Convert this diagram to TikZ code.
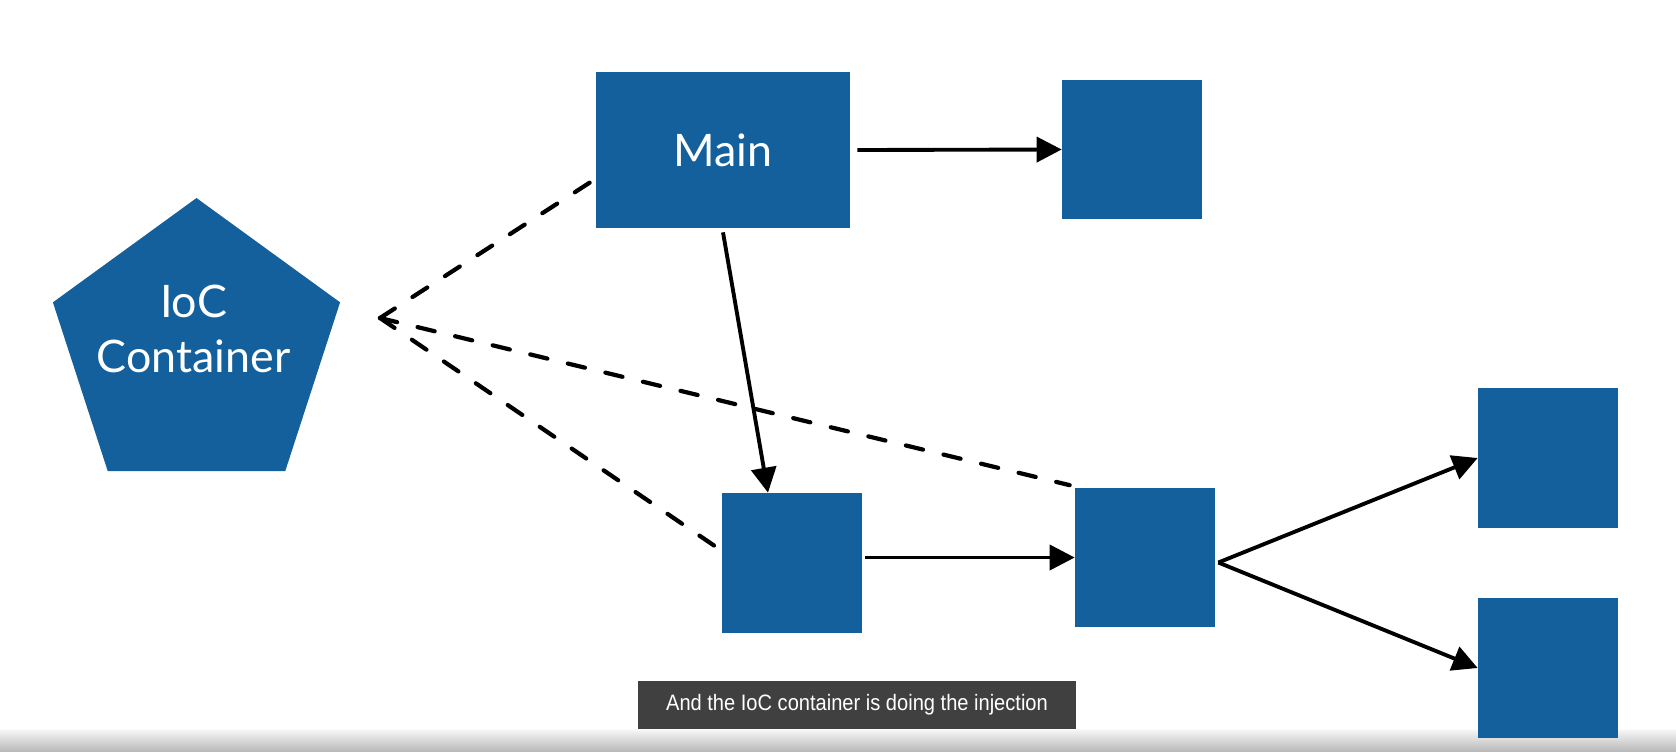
\documentclass[tikz,border=0pt]{standalone}
\usepackage{fontspec}
\setmainfont{Lato}
\newfontfamily\captionfont[FakeStretch=0.9]{Liberation Sans}
\usepackage{tikz}
\usetikzlibrary{arrows.meta, calc, shapes.geometric}
\definecolor{Box_Blue}{HTML}{14609C}
\definecolor{Caption_Gray}{HTML}{404040}

\begin{document}
\begin{tikzpicture}[x=0.02cm, y=-0.02cm, >={Triangle[length=0.5cm, width=0.5cm]},
    box/.style={fill=Box_Blue, inner sep=0pt, minimum width=2.8cm, minimum height=2.8cm},
    boxtext/.style={text=white, font={\fontsize{25.5}{31.3}\selectfont}, align=center},
    flow/.style={->, line width=2.2pt},
    inject/.style={line width=2.4pt, line cap=round, dash pattern=on 10pt off 12pt}]
    \useasboundingbox (0,0) rectangle (1676,751);

    % Bottom shadow bar
    \shade[top color=gray!5, bottom color=gray!55] (0,729) rectangle (1676,751);

    % IoC Container (pentagon)
    \node[regular polygon, regular polygon sides=5, fill=Box_Blue, inner sep=0pt, minimum size=6.04cm] (ioc) at (196.5,349) {};
    \node[boxtext] (ioclabel) at ($(ioc.center)+(-3,-20)$) {IoC\\Container};

    % Main and its dependency
    \node[box, minimum width=5.08cm, minimum height=3.12cm, boxtext] (main) at (723,150) {Main};
    \node[box] (top) at (1132,149.5) {};

    % Lower chain
    \node[box] (b1) at (792,563) {};
    \node[box] (b2) at (1145,557.5) {};
    \node[box] (r1) at (1548,458) {};
    \node[box] (r2) at (1548,668) {};

    % Injection point
    \coordinate (hub) at (380,318);

    % Dependencies (solid)
    \draw[flow] ($(main.east)+(7,0)$) -- (top.west);
    \draw[flow] ($(main.south)+(0,4)$) -- ($(b1.north)+(-24,0)$);
    \draw[flow] ($(b1.east |- b2.west)+(3,0)$) -- (b2.west);
    \draw[flow] ($(b2.east)+(3,5)$) -- (r1.west);
    \draw[flow] ($(b2.east)+(3,5)$) -- (r2.west);

    % Injections (dashed)
    \draw[inject] (hub) -- ($(main.west)+(-5,32)$);
    \draw[inject] (hub) -- ($(b2.north west)+(-5,-2)$);
    \draw[inject] (hub) -- ($(b1.west)+(-4,-15)$);

    % Caption
    \node[fill=Caption_Gray, minimum width=8.76cm, minimum height=0.96cm, inner sep=0pt,
        text=white, font={\captionfont\fontsize{12.7}{14}\selectfont}] (caption) at (857,705)
        {And the IoC container is doing the injection};
\end{tikzpicture}
\end{document}
